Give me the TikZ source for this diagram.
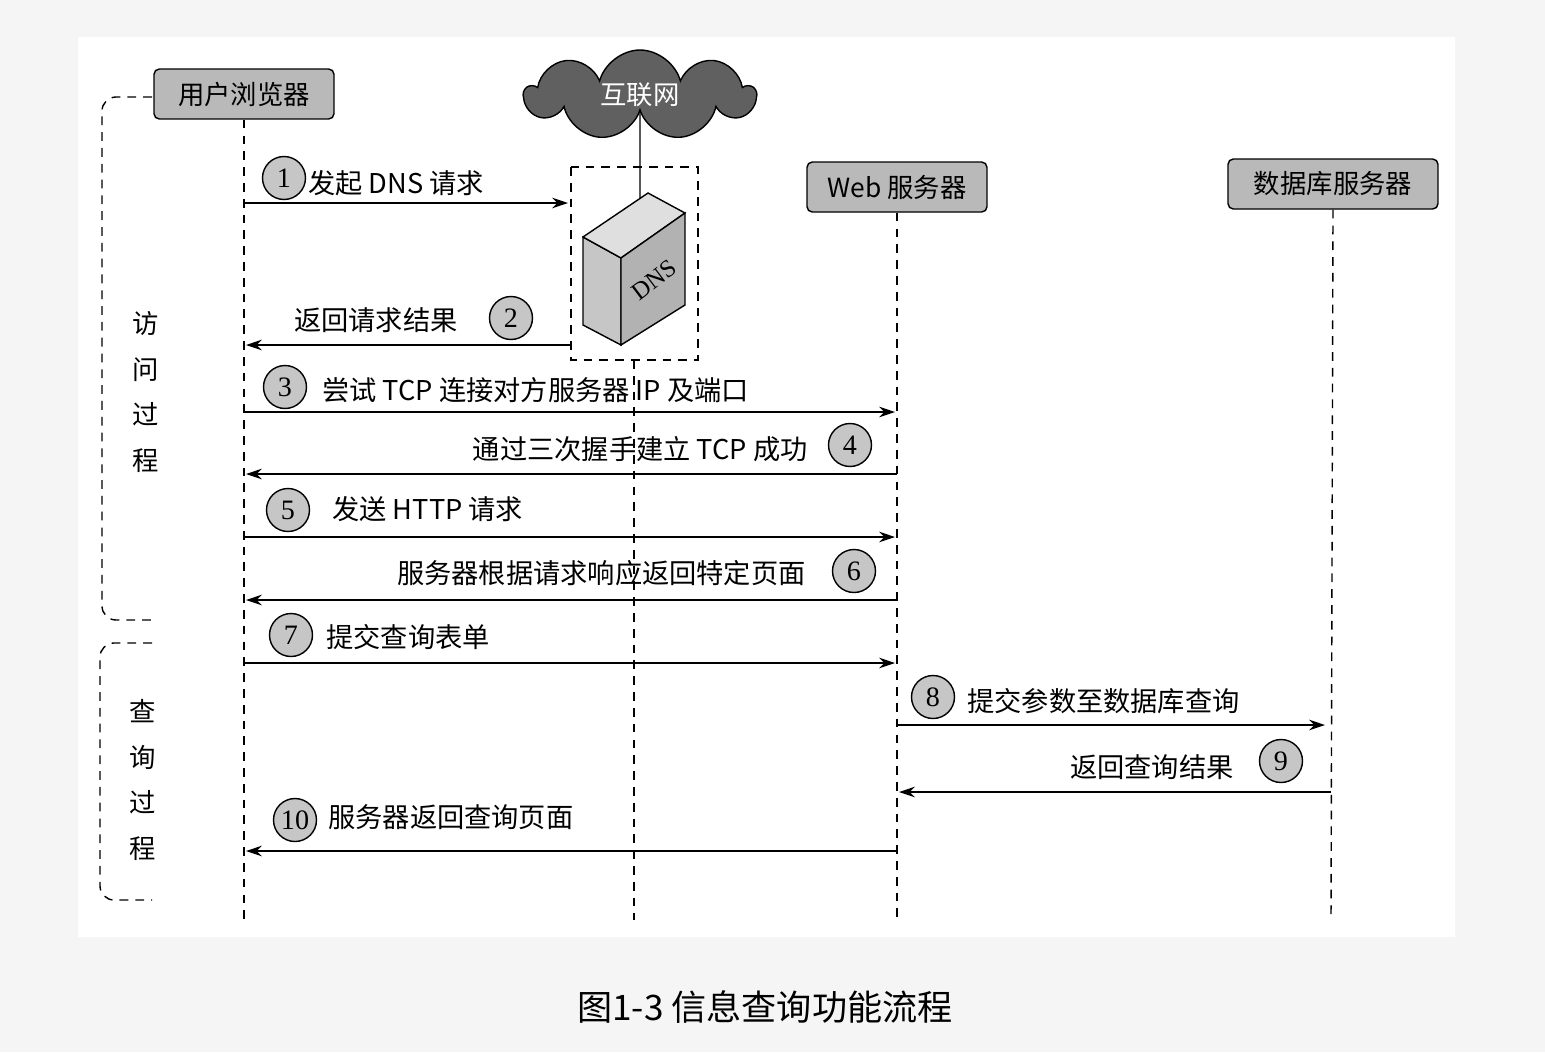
\documentclass[tikz,border=0pt]{standalone}
\usepackage{fontspec}
\setmainfont{Liberation Serif}
\newfontfamily\cjk{Noto Sans CJK SC}
\usetikzlibrary{positioning,shapes.symbols,arrows.meta}

\begin{document}
\begin{tikzpicture}[x=0.02cm,y=-0.02cm]

\tikzset{actor/.style={draw,thick,rounded corners=3pt,fill=gray!55,minimum height=1cm,font=\cjk\fontsize{15}{17}\selectfont,inner xsep=8pt},
  num/.style={draw,thick,circle,fill=gray!45,minimum size=0.86cm,inner sep=0pt,font=\fontsize{16}{16}\selectfont},
  lbl/.style={font=\cjk\fontsize{15.5}{17}\selectfont,inner sep=0pt},
  msg/.style={thick,-{Stealth[length=9pt,width=6pt]}},
  life/.style={thick,dashed,dash pattern=on 5pt off 4pt},
  stage/.style={font=\cjk\fontsize{15}{17}\selectfont,align=center,text width=1em}}

% background
\fill[gray!8] (0,0) rectangle (1545,1052);
\fill[white] (78,37) rectangle (1455,937);
\useasboundingbox (0,0) rectangle (1545,1052);

% actors
\node[actor,minimum width=3.6cm] (browser) at (244,94) {用户浏览器};
\node[actor,minimum width=3.6cm] (web) at (897,187) {Web 服务器};
\node[actor,minimum width=4.2cm] (db) at (1333,184) {数据库服务器};
\node[cloud,cloud puffs=9,aspect=2.6,draw,thick,fill=gray!75!black,minimum width=4.6cm,minimum height=1.8cm,
  text=white,font=\cjk\fontsize{15}{17}\selectfont] (net) at (640,95) {互联网};

% DNS box
\draw[life] (571,167) rectangle (698,360);
\draw[thick,fill=gray!45] (583,237) -- (621,258) -- (621,345) -- (583,325) -- cycle;
\draw[thick,fill=gray!25] (583,237) -- (648,193) -- (685,213) -- (621,258) -- cycle;
\draw[thick,fill=gray!60] (621,258) -- (685,213) -- (685,305) -- (621,345) -- cycle;
\node[rotate=37,font=\fontsize{14}{14}\selectfont,inner sep=0pt] (dnslbl) at (654,280) {DNS};
\coordinate (dnstop) at (640,198);
\draw[thick] (net.south) -- (dnstop);

% lifelines
\coordinate (bend) at (244,925);
\coordinate (dtop) at (634,360);
\coordinate (dend) at (634,920);
\coordinate (wend) at (897,920);
\coordinate (dbend) at (1331,920);
\draw[life] (browser.south) -- (bend);
\draw[life] (dtop) -- (dend);
\draw[life] (web.south) -- (wend);
\draw[life] (db.south) -- (dbend);

% messages
\foreach \n/\y/\xa/\xb in {1/203/244/568, 2/345/571/246, 3/412/244/895, 4/474/897/246, 5/537/244/895,
  6/600/897/246, 7/663/244/895, 8/725/897/1325, 9/792/1331/899, 10/851/897/246}{
  \coordinate (s\n) at (\xa,\y);
  \coordinate (e\n) at (\xb,\y);
  \draw[msg] (s\n) -- (e\n);
}

% labels
\node[num] (n1) at (284,178) {1};
\node[lbl,anchor=west] (t1) at (308,183) {发起 DNS 请求};
\node[num] (n2) at (511,318) {2};
\node[lbl,anchor=east] (t2) at (458,320) {返回请求结果};
\node[num] (n3) at (285,387) {3};
\node[lbl,anchor=west] (t3) at (322,390) {尝试 TCP 连接对方服务器 IP 及端口};
\node[num] (n4) at (850,445) {4};
\node[lbl,anchor=east] (t4) at (808,449) {通过三次握手建立 TCP 成功};
\node[num] (n5) at (288,510) {5};
\node[lbl,anchor=west] (t5) at (332,509) {发送 HTTP 请求};
\node[num] (n6) at (854,571) {6};
\node[lbl,anchor=east] (t6) at (806,573) {服务器根据请求响应返回特定页面};
\node[num] (n7) at (291,635) {7};
\node[lbl,anchor=west] (t7) at (326,637) {提交查询表单};
\node[num] (n8) at (933,697) {8};
\node[lbl,anchor=west] (t8) at (967,701) {提交参数至数据库查询};
\node[num] (n9) at (1281,761) {9};
\node[lbl,anchor=east] (t9) at (1234,767) {返回查询结果};
\node[num] (n10) at (295,820) {10};
\node[lbl,anchor=west] (t10) at (328,817) {服务器返回查询页面};

% stages
\draw[life,rounded corners=8pt] (152,97) -- (102,97) -- (102,620) -- (152,620);
\draw[life,rounded corners=8pt] (152,643) -- (100,643) -- (100,900) -- (152,900);
\node[stage] (visit) at (141,392) {访\\[9pt]问\\[9pt]过\\[9pt]程};
\node[stage] (query) at (138,780) {查\\[9pt]询\\[9pt]过\\[9pt]程};

% caption
\node[font=\cjk\fontsize{20}{22}\selectfont] (cap) at (765,1007) {图1-3 信息查询功能流程};
\end{tikzpicture}
\end{document}
